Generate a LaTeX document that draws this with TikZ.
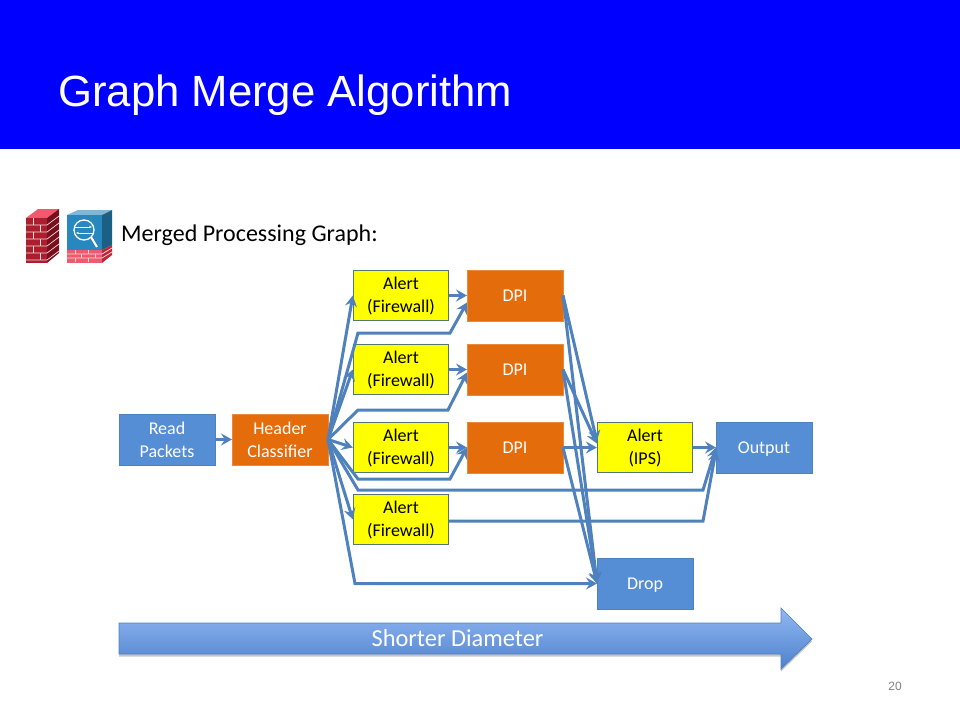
\documentclass[tikz,border=0pt]{standalone}
\usepackage{fontspec}
\setmainfont{Carlito}
\newfontfamily\titlefont{Liberation Sans}
\usetikzlibrary{arrows.meta,shadows}
\definecolor{bandblue}{RGB}{0,0,255}
\definecolor{dpiorange}{RGB}{228,108,10}
\definecolor{boxblue}{RGB}{85,142,213}
\definecolor{edgeblue}{RGB}{79,129,189}
\definecolor{alertfill}{RGB}{255,255,0}
\definecolor{alertedge}{RGB}{85,120,110}
\definecolor{arrowtop}{RGB}{145,183,243}
\definecolor{arrowbot}{RGB}{78,130,205}
\definecolor{brickred}{RGB}{170,30,45}
\definecolor{brickdark}{RGB}{120,15,30}
\definecolor{brickpink}{RGB}{240,90,110}
\definecolor{cubeblue}{RGB}{40,135,190}
\tikzset{
  basebox/.style={minimum width=95.5pt,minimum height=50.5pt,inner sep=0pt,align=center,font=\fontsize{18}{23}\selectfont},
  alertbox/.style={basebox,draw=alertedge,line width=0.8pt,fill=alertfill,text=black},
  dpibox/.style={basebox,draw=dpiorange!80!white,line width=0.5pt,fill=dpiorange,text=white},
  ioBox/.style={basebox,draw=edgeblue,line width=0.5pt,fill=boxblue,text=white},
  flow/.style={draw=edgeblue,line width=3pt,line join=miter,-{Stealth[length=11pt,width=12pt,inset=4pt]}},
  brick/.style={draw=white!85!red,line width=0.7pt},
}
\begin{document}
\begin{tikzpicture}[x=1pt,y=-1pt]
  \useasboundingbox (0,0) rectangle (960,720);
  \fill[bandblue] (0,0) rectangle (960,149);
  \node[anchor=base west,inner sep=0pt,text=white,font=\titlefont\fontsize{43.7}{50}\selectfont] (title) at (58,106) {Graph Merge Algorithm};
  % firewall icon
  \fill[brickpink] (26,218) -- (38,209) -- (59,209) -- (47,218) -- cycle;
  \fill[brickred] (26,218) rectangle (47,263);
  \fill[brickdark] (47,218) -- (59,209) -- (59,253) -- (47,263) -- cycle;
  \foreach \y in {225,232,239,246,253,260} {
    \draw[brick] (26,\y) -- (47,\y) -- (59,\y-9);
  }
  \foreach \y/\x in {218/33,225/40,232/33,239/40,246/33,253/40} {
    \draw[brick] (\x,\y) -- (\x,\y+7);
  }
  % inspection icon
  \fill[cubeblue!60!white] (67,215) -- (78,210) -- (112,210) -- (102,215) -- cycle;
  \fill[cubeblue] (67,215) rectangle (102,250);
  \fill[cubeblue!70!black] (102,215) -- (112,210) -- (112,245) -- (102,250) -- cycle;
  \fill[brickpink] (67,250) rectangle (102,263);
  \fill[brickred!80!brickpink] (102,250) -- (112,245) -- (112,255) -- (102,263) -- cycle;
  \foreach \y in {254,258} {
    \draw[brick] (67,\y) -- (102,\y) -- (112,\y-6);
  }
  \foreach \x/\y in {75/250,88/250,81/254,95/254,75/258,88/258} {
    \draw[brick] (\x,\y) -- (\x,\y+4);
  }
  \draw[white,line width=1.3pt] (84,230) circle (10);
  \draw[white,line width=2pt] (91,237) -- (97,247);
  \draw[white,line width=0.9pt,-{Stealth[length=3pt]}] (74,227) -- (92,227);
  \draw[white,line width=0.9pt,-{Stealth[length=3pt]}] (94,233) -- (76,233);
  \node[anchor=base west,inner sep=0pt,text=black,font=\fontsize{24}{28}\selectfont] (heading) at (121,241) {Merged Processing Graph:};
  % boxes
  \node[ioBox] (read) at (167,439.5) {Read\\Packets};
  \node[dpibox] (hdr) at (280,439.5) {Header\\Classifier};
  \node[alertbox] (alertA) at (401,295.5) {Alert\\(Firewall)};
  \node[alertbox] (alertB) at (401,369.5) {Alert\\(Firewall)};
  \node[alertbox] (alertC) at (401,447.5) {Alert\\(Firewall)};
  \node[alertbox] (alertD) at (401,519.5) {Alert\\(Firewall)};
  \node[dpibox] (dpiA) at (515,295.5) {DPI};
  \node[dpibox] (dpiB) at (515,369.5) {DPI};
  \node[dpibox] (dpiC) at (515,447.5) {DPI};
  \node[alertbox] (ips) at (645,447.5) {Alert\\(IPS)};
  \node[ioBox,text depth=0pt] (out) at (764,447.5) {Output};
  \node[ioBox,text depth=0pt] (drop) at (645,583.5) {Drop};
  % connectors
  \begin{scope}[flow]
    \draw (read) to (hdr);
    \draw (hdr.east) to (alertA.west);
    \draw (hdr.east) to (alertB.west);
    \draw (hdr.east) to (alertC.west);
    \draw (hdr.east) to (alertD.west);
    \draw (alertA) to (dpiA);
    \draw (alertB) to (dpiB);
    \draw (alertC) to (dpiC);
    \draw (hdr.east) -- (358,333) -- (450,333) -- ([yshift=-7pt]dpiA.west);
    \draw (hdr.east) -- (358,410) -- (448,410) -- ([yshift=-3pt]dpiB.west);
    \draw (hdr.east) -- (358,479) -- (450,479) -- (dpiC.west);
    \draw (hdr.east) -- (358,490) -- (703,490) -- (out.west);
    \draw (hdr.east) -- (355,583.5) -- (drop.west);
    \draw ([yshift=-1.5pt]alertD.east) -- (703,521) -- ([yshift=-3pt]out.west);
    \draw (dpiA.east) to ([yshift=6pt]ips.west);
    \draw (dpiB.east) to ([yshift=4pt]ips.west);
    \draw (dpiC.east) to (ips.west);
    \draw (dpiA.east) to (drop.west);
    \draw (dpiB.east) to (drop.west);
    \draw (dpiC.east) to (drop.west);
    \draw (ips) to (out);
  \end{scope}
  % diameter arrow
  \path[draw=edgeblue,line width=0.7pt,top color=arrowtop,bottom color=arrowbot,drop shadow={shadow xshift=0pt,shadow yshift=-2.5pt,opacity=0.45}]
    (119,623) -- (781,623) -- (781,608) -- (812,639) -- (781,669) -- (781,654) -- (119,654) -- cycle;
  \node[text=white,inner sep=0pt,font=\fontsize{24.4}{28}\selectfont] (diam) at (457.5,638.5) {Shorter Diameter};
  \node[text=black!50,inner sep=0pt,font=\titlefont\fontsize{12}{14}\selectfont] (pagenum) at (895,686) {20};
\end{tikzpicture}
\end{document}
